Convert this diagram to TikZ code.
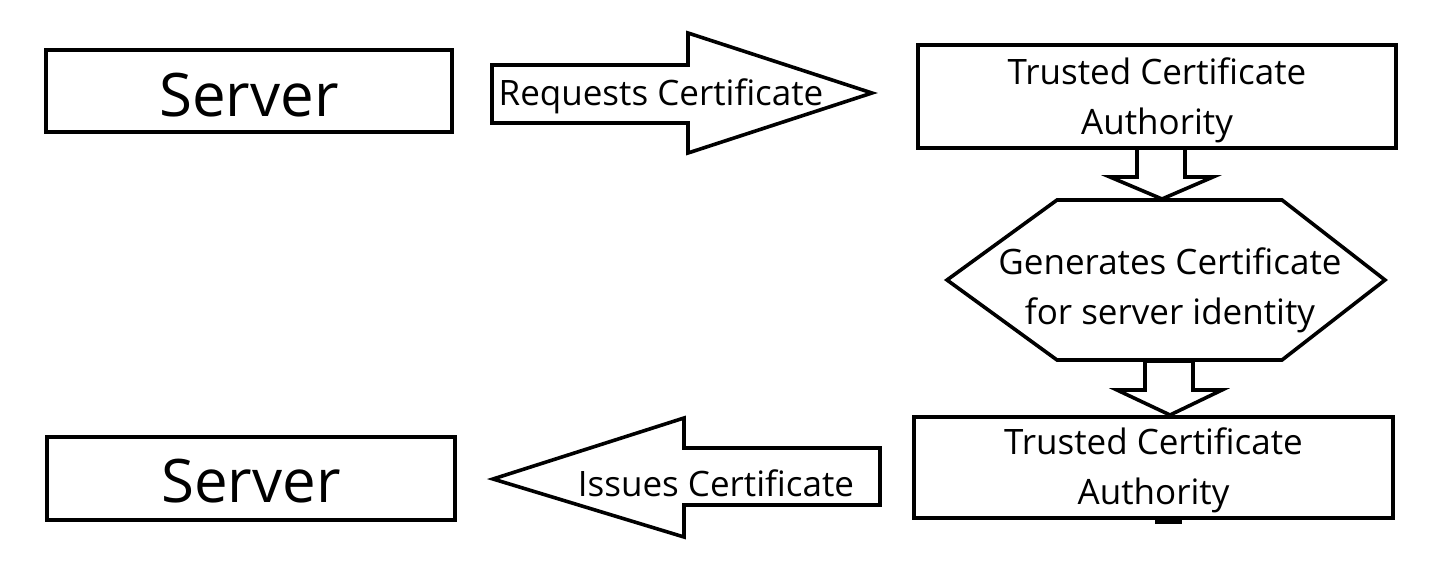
\documentclass[tikz,border=0pt]{standalone}
\usepackage{fontspec}
\setmainfont{Open Sans}
\usetikzlibrary{positioning}

\begin{document}
\begin{tikzpicture}[
        x=0.5pt, y=-0.5pt,
        box/.style={draw, line width=2pt, inner sep=0pt},
        blockarrow/.style={draw, line width=1.8pt, fill=white, line join=miter},
        label/.style={inner sep=0pt, align=center, font=\fontsize{17.5}{25}\selectfont},
        big/.style={inner sep=0pt, font=\fontsize{30}{36}\selectfont}
    ]

    \useasboundingbox (0,0) rectangle (1456,566) ;

    % servers and authorities
    \node[box, minimum width=203pt, minimum height=41pt] (server1) at (249,91) {} ;
    \node[big] (server1 text) at ([yshift=-2pt]server1) {Server} ;
    \node[box, minimum width=204pt, minimum height=41.5pt] (server2) at (251,478.5) {} ;
    \node[big] (server2 text) at ([yshift=-1.5pt]server2) {Server} ;
    \node[box, minimum width=239pt, minimum height=51.5pt] (tca1) at (1157,96.5) {} ;
    \node[label] (tca1 text) at ([yshift=-2pt]tca1) {Trusted Certificate\\Authority} ;
    \node[box, minimum width=239.5pt, minimum height=50.5pt] (tca2) at (1153.5,467.5) {} ;
    \node[label] (tca2 text) at ([yshift=-1.5pt]tca2) {Trusted Certificate\\Authority} ;
    \fill (1155,518) rectangle (1182,524) ;

    % hexagon
    \draw[blockarrow] (947,280) -- (1057,200) -- (1282,200) -- (1385,280)
        -- (1282,360) -- (1057,360) -- cycle ;
    \node[label] (gen) at (1170,290) {Generates Certificate\\for server identity} ;

    % block arrows
    \draw[blockarrow] (492,65) -- (688,65) -- (688,33) -- (872,93) -- (688,153)
        -- (688,123) -- (492,123) -- cycle ;
    \node[label] (req) at (661,96) {Requests Certificate} ;

    \draw[blockarrow] (880,448) -- (684,448) -- (684,418) -- (493,479) -- (684,537)
        -- (684,505) -- (880,505) -- cycle ;
    \node[label] (iss) at (716,483) {Issues Certificate} ;

    \draw[blockarrow] (1137,148) -- (1185,148) -- (1185,177) -- (1213,177) -- (1162,199)
        -- (1110,177) -- (1137,177) -- cycle ;
    \draw[blockarrow] (1145,361) -- (1193,361) -- (1193,390) -- (1222,390) -- (1170,415)
        -- (1117,390) -- (1145,390) -- cycle ;

\end{tikzpicture}
\end{document}
